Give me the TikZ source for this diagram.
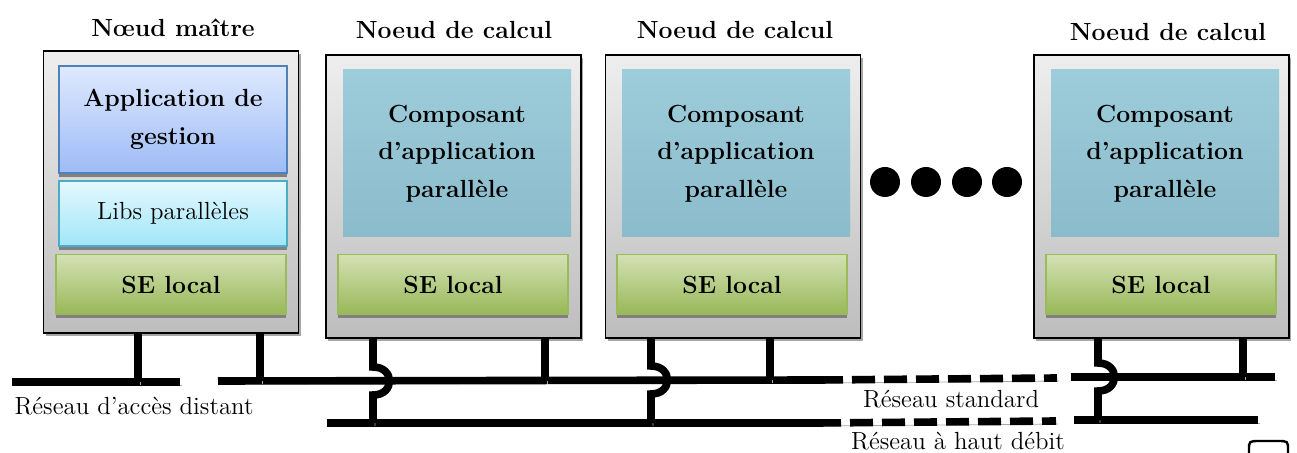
\documentclass[tikz,border=0pt]{standalone}
\usepackage{fontspec}
\usetikzlibrary{calc,shadows}
\definecolor{boxtop}{HTML}{EEEEEE}
\definecolor{boxbot}{HTML}{BDBDBD}
\definecolor{apptop}{HTML}{DFE9FE}
\definecolor{appbot}{HTML}{9DBBF6}
\definecolor{appdraw}{HTML}{4F81BD}
\definecolor{libtop}{HTML}{E4F8FE}
\definecolor{libbot}{HTML}{A0E6F8}
\definecolor{libdraw}{HTML}{4BACC6}
\definecolor{setop}{HTML}{D3E1B5}
\definecolor{sebot}{HTML}{98B857}
\definecolor{sedraw}{HTML}{9BBB59}
\definecolor{comptop}{HTML}{9DCCDA}
\definecolor{compbot}{HTML}{8BBCCB}
\definecolor{shadowgray}{HTML}{A6A6A6}
\definecolor{innershadow}{HTML}{808080}
\begin{document}
\begin{tikzpicture}[x=0.5pt,y=-0.5pt,
  txt/.style={font=\fontsize{12.4}{18.75}\selectfont, align=center, inner sep=0pt},
  title/.style={txt, font=\fontsize{12.4}{18.75}\selectfont\bfseries},
  lbl/.style={txt},
  outerbox/.style={draw=black, line width=0.9pt, top color=boxtop, bottom color=boxbot,
    minimum width=127.5pt, minimum height=141.5pt, inner sep=0pt,
    drop shadow={shadow xshift=1.2pt, shadow yshift=-1.5pt, fill=shadowgray, opacity=1}},
  innerbox/.style={txt, font=\fontsize{12.4}{18.75}\selectfont\bfseries, minimum width=114pt,
    drop shadow={shadow xshift=0pt, shadow yshift=-2pt, fill=innershadow, opacity=1}},
  appbox/.style={innerbox, draw=appdraw, line width=0.8pt, top color=apptop, bottom color=appbot, minimum height=53.5pt},
  libbox/.style={innerbox, font=\fontsize{12.4}{18.75}\selectfont, draw=libdraw, line width=0.8pt, top color=libtop, bottom color=libbot, minimum height=32.5pt},
  sebox/.style={innerbox, draw=sedraw, line width=0.8pt, top color=setop, bottom color=sebot, minimum width=115pt, minimum height=30pt},
  compbox/.style={txt, font=\fontsize{12.4}{18.75}\selectfont\bfseries, top color=comptop, bottom color=compbot, minimum width=114pt, minimum height=83.5pt},
  dot/.style={circle, fill=black, minimum size=15pt, inner sep=0pt},
  net/.style={line width=3.8pt, line cap=butt, draw=black,
    preaction={draw=shadowgray, transform canvas={xshift=1pt,yshift=-1.5pt}}},
  netdash/.style={net, dash pattern=on 11.5pt off 4.5pt}
]
\useasboundingbox (0,0) rectangle (1297,453);

% master node
\node[outerbox, minimum height=141pt] (master) at (171,192) {};
\node[title] (tmaster) at (173,28) {Nœud maître};
\node[appbox] (app) at (173,119.5) {Application de\\gestion};
\node[libbox] (libs) at (173,213.5) {Libs parallèles};
\node[sebox] (se0) at (171,284.5) {SE local};

% compute nodes
\node[outerbox] (c1) at (453.5,196.5) {};
\node[title] (tc1) at (454,30) {Noeud de calcul};
\node[compbox] (comp1) at (457,153.5) {Composant\\d’application\\parallèle};
\node[sebox] (se1) at (453,284.5) {SE local};

\node[outerbox] (c2) at (733,196.5) {};
\node[title] (tc2) at (735,30) {Noeud de calcul};
\node[compbox] (comp2) at (736,153.5) {Composant\\d’application\\parallèle};
\node[sebox] (se2) at (732,284.5) {SE local};

\node[outerbox] (c3) at (1161.5,196.5) {};
\node[title] (tc3) at (1168,32) {Noeud de calcul};
\node[compbox] (comp3) at (1165,153.5) {Composant\\d’application\\parallèle};
\node[sebox] (se3) at (1161,284.5) {SE local};

% dots
\node[dot] (d1) at (885,182) {};
\node[dot] (d2) at (926,182) {};
\node[dot] (d3) at (967,182) {};
\node[dot] (d4) at (1007,182) {};

% network coordinates
\coordinate (ra1) at (12,382);
\coordinate (ra2) at (180,382);
\coordinate (st1) at (218,381);
\coordinate (st2) at (820,380);
\coordinate (st3) at (1057,378);
\coordinate (st4) at (1071,377);
\coordinate (st5) at (1275,377);
\coordinate (hs1) at (327,423);
\coordinate (hs2) at (818,423);
\coordinate (hs3) at (1056,421);
\coordinate (hs4) at (1074,420);
\coordinate (hs5) at (1258,420);
% stub x positions
\coordinate (xm1) at (138,0);
\coordinate (xm2) at (260,0);
\coordinate (xj1) at (373,0);
\coordinate (xs1) at (545,0);
\coordinate (xj2) at (651,0);
\coordinate (xs2) at (770,0);
\coordinate (xj3) at (1098,0);
\coordinate (xs3) at (1243,0);

% networks
\draw[net] (ra1) -- (ra2);
\draw[net] (st1) -- (st2);
\draw[netdash] (st2) -- (st3);
\draw[net] (st4) -- (st5);
\draw[net] (hs1) -- (hs2);
\draw[netdash] (hs2) -- (hs3);
\draw[net] (hs4) -- (hs5);

% stubs
\draw[net] (xm1 |- master.south) -- (xm1 |- ra1);
\draw[net] (xm2 |- master.south) -- (xm2 |- st1);
\draw[net] (xs1 |- c1.south) -- (xs1 |- st1);
\draw[net] (xs2 |- c2.south) -- (xs2 |- st2);
\draw[net] (xs3 |- c3.south) -- (xs3 |- st5);

% jumping stubs
\draw[net] (xj1 |- c1.south) -- ($(xj1 |- st1)+(0,-14)$) .. controls +(22,0) and +(22,0) .. ($(xj1 |- st1)+(0,14)$) -- (xj1 |- hs1);
\draw[net] (xj2 |- c2.south) -- ($(xj2 |- st2)+(0,-14)$) .. controls +(22,0) and +(22,0) .. ($(xj2 |- st2)+(0,14)$) -- (xj2 |- hs2);
\draw[net] (xj3 |- c3.south) -- ($(xj3 |- st5)+(0,-14)$) .. controls +(22,0) and +(22,0) .. ($(xj3 |- st5)+(0,14)$) -- (xj3 |- hs5);

% labels
\node[lbl] (lra) at (134,406) {Réseau d’accès distant};
\node[lbl] (lst) at (951,399) {Réseau standard};
\node[lbl] (lhs) at (958,441) {Réseau à haut débit};

% partial shape at bottom right
\draw[line width=1.2pt] (1249,456) -- (1249,450) .. controls (1249,441) .. (1260,441) -- (1277,441) .. controls (1288,441) .. (1288,450) -- (1288,456);
\end{tikzpicture}
\end{document}
